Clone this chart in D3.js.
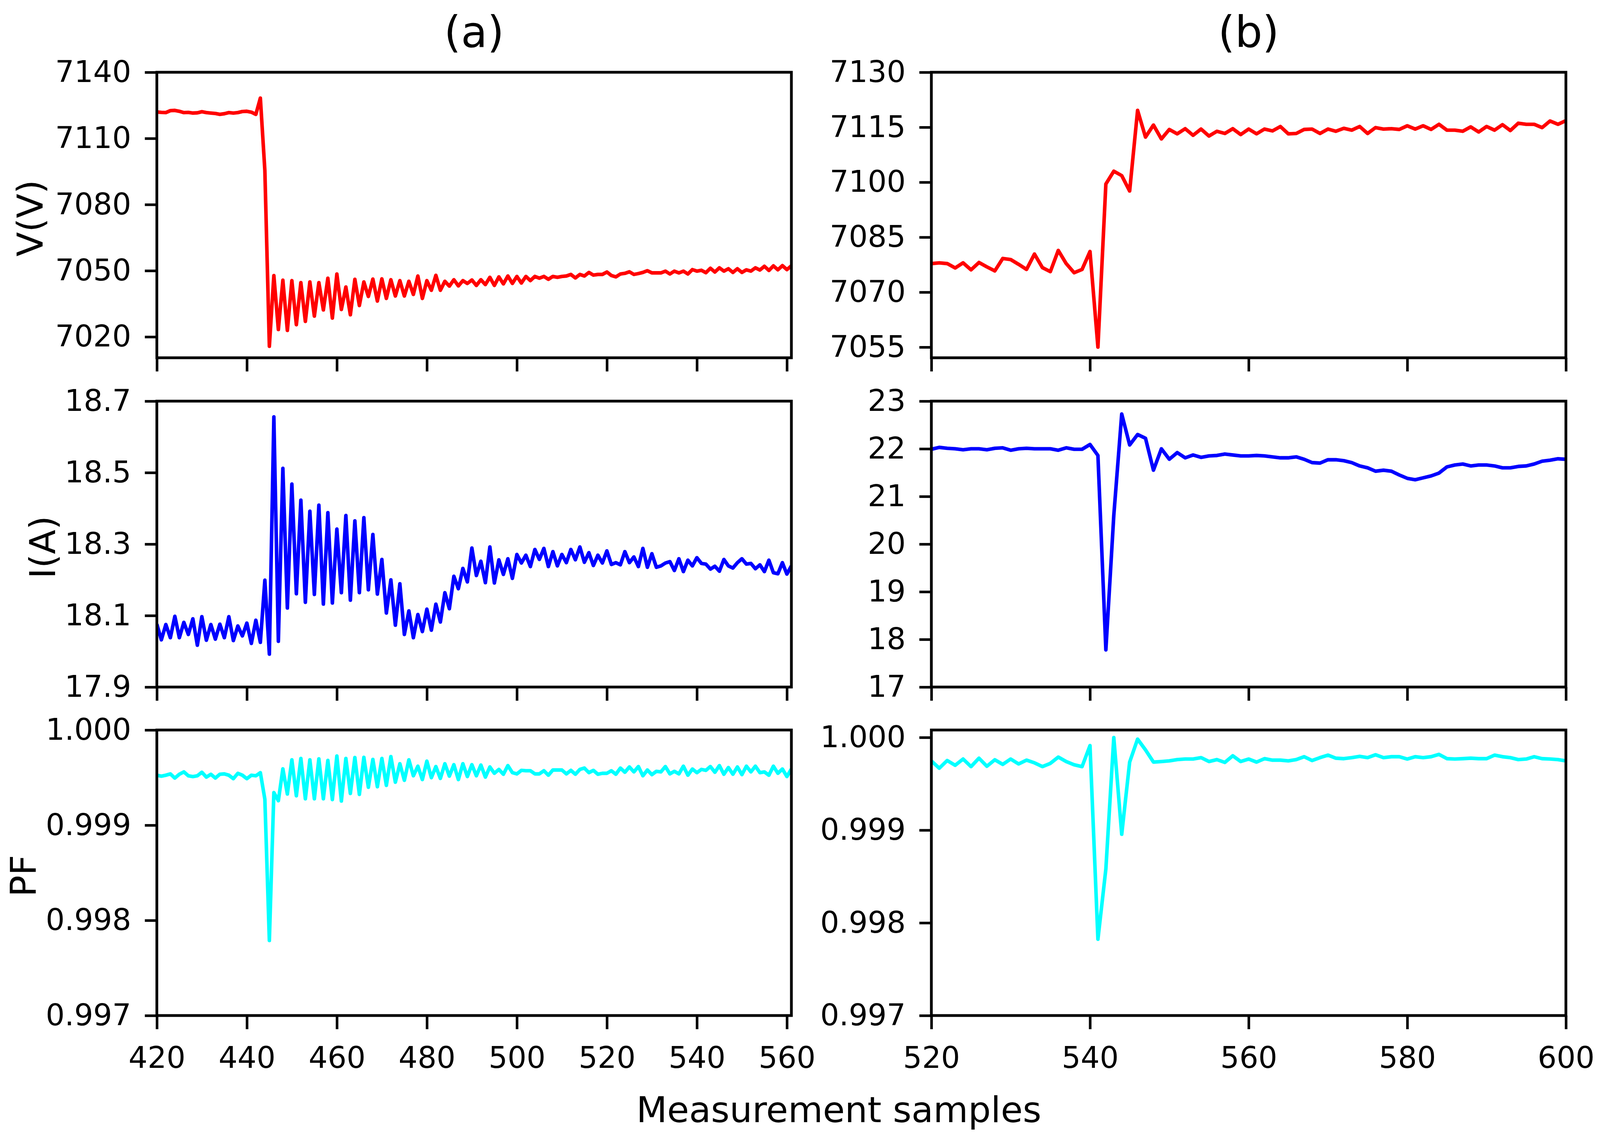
<!DOCTYPE html>
<html>
<head>
<meta charset="utf-8">
<script src="https://cdn.jsdelivr.net/npm/d3@7"></script>
<style>
  html, body { margin: 0; padding: 0; background: #fff; overflow: hidden; }
  svg { display: block; }
  text { font-family: "DejaVu Sans", sans-serif; }
</style>
</head>
<body>
<script>
// Datos
const samplesA = d3.range(420, 562); // muestras 420..561
const samplesB = d3.range(520, 601); // muestras 520..600

const voltageA = [
  7122.0, 7121.8, 7121.7, 7122.6, 7122.7, 7122.3, 7121.7, 7121.8, 7121.5, 7121.6,
  7122.1, 7121.7, 7121.5, 7121.3, 7120.9, 7121.2, 7121.7, 7121.5, 7121.7, 7122.2,
  7122.3, 7121.9, 7120.9, 7128.3, 7095.5, 7015.7, 7047.8, 7023.3, 7045.7, 7022.9,
  7045.5, 7025.5, 7044.6, 7027.0, 7044.9, 7029.4, 7044.6, 7032.2, 7046.6, 7028.5,
  7048.5, 7032.4, 7042.6, 7030.0, 7046.1, 7034.2, 7044.9, 7038.3, 7046.2, 7036.2,
  7046.3, 7037.4, 7045.9, 7038.5, 7045.5, 7038.5, 7045.2, 7039.2, 7047.6, 7037.4,
  7045.5, 7041.1, 7047.9, 7041.1, 7045.2, 7043.0, 7045.9, 7043.1, 7045.5, 7044.2,
  7045.8, 7043.3, 7045.9, 7043.7, 7047.0, 7043.3, 7047.2, 7044.0, 7047.6, 7044.2,
  7047.4, 7044.4, 7047.4, 7045.5, 7047.4, 7046.6, 7047.4, 7046.1, 7047.4, 7047.0,
  7047.4, 7047.6, 7048.3, 7046.7, 7048.3, 7047.6, 7049.2, 7048.0, 7048.3, 7048.3,
  7049.4, 7047.8, 7047.2, 7048.5, 7048.8, 7049.5, 7048.3, 7048.7, 7049.2, 7050.0,
  7049.0, 7049.0, 7049.0, 7049.8, 7048.5, 7049.8, 7049.0, 7049.8, 7048.5, 7050.5,
  7049.8, 7050.2, 7049.1, 7051.1, 7049.4, 7051.3, 7049.8, 7050.9, 7049.2, 7050.9,
  7049.2, 7050.4, 7049.8, 7051.3, 7050.3, 7052.0, 7050.1, 7052.2, 7050.4, 7052.3,
  7050.5, 7052.2,
];

const currentA = [
  18.076, 18.032, 18.075, 18.038, 18.098, 18.038, 18.081, 18.047, 18.091, 18.017,
  18.097, 18.031, 18.075, 18.034, 18.076, 18.038, 18.097, 18.030, 18.071, 18.043,
  18.079, 18.022, 18.087, 18.025, 18.199, 17.992, 18.656, 18.028, 18.512, 18.121,
  18.468, 18.161, 18.423, 18.137, 18.392, 18.159, 18.409, 18.132, 18.388, 18.135,
  18.342, 18.164, 18.380, 18.143, 18.365, 18.164, 18.374, 18.172, 18.327, 18.160,
  18.257, 18.107, 18.200, 18.073, 18.189, 18.047, 18.113, 18.038, 18.103, 18.055,
  18.118, 18.059, 18.132, 18.082, 18.164, 18.119, 18.210, 18.175, 18.232, 18.194,
  18.289, 18.212, 18.252, 18.192, 18.292, 18.191, 18.256, 18.215, 18.259, 18.204,
  18.271, 18.247, 18.269, 18.237, 18.285, 18.257, 18.288, 18.237, 18.279, 18.239,
  18.271, 18.248, 18.285, 18.256, 18.292, 18.249, 18.276, 18.240, 18.269, 18.247,
  18.281, 18.243, 18.248, 18.242, 18.279, 18.248, 18.264, 18.237, 18.288, 18.235,
  18.273, 18.235, 18.239, 18.247, 18.251, 18.226, 18.259, 18.223, 18.255, 18.239,
  18.262, 18.246, 18.244, 18.230, 18.238, 18.224, 18.257, 18.239, 18.233, 18.248,
  18.259, 18.244, 18.246, 18.231, 18.242, 18.223, 18.255, 18.220, 18.217, 18.248,
  18.216, 18.239,
];

const pfA = [
  0.999525, 0.999515, 0.999525, 0.999539, 0.999495, 0.999535, 0.99956, 0.999519, 0.999511, 0.999519,
  0.999556, 0.999505, 0.999535, 0.999495, 0.999535, 0.999539, 0.999525, 0.999489, 0.999545, 0.999525,
  0.999489, 0.999525, 0.999519, 0.999552, 0.999273, 0.997788, 0.999343, 0.999257, 0.999592, 0.999327,
  0.999687, 0.999309, 0.999701, 0.999277, 0.999687, 0.999277, 0.999697, 0.999277, 0.999681, 0.999269,
  0.999727, 0.999253, 0.999701, 0.999333, 0.999711, 0.999323, 0.999713, 0.999398, 0.999691, 0.999404,
  0.999701, 0.999418, 0.999721, 0.999451, 0.999646, 0.999471, 0.999687, 0.999519, 0.99962, 0.999479,
  0.999673, 0.999499, 0.999616, 0.999491, 0.999646, 0.999515, 0.999636, 0.999479, 0.999646, 0.999511,
  0.999636, 0.999519, 0.999632, 0.999505, 0.999612, 0.999545, 0.999586, 0.999535, 0.999626, 0.999552,
  0.999539, 0.999576, 0.999572, 0.999572, 0.999539, 0.999539, 0.999572, 0.999525, 0.99958, 0.99958,
  0.99958, 0.999539, 0.999576, 0.999535, 0.999586, 0.9996, 0.999552, 0.999576, 0.999535, 0.999545,
  0.999545, 0.999572, 0.999535, 0.9996, 0.999556, 0.999612, 0.99956, 0.999616, 0.999519, 0.99958,
  0.999531, 0.999566, 0.99956, 0.999616, 0.999539, 0.999566, 0.999539, 0.99962, 0.999525, 0.99959,
  0.999552, 0.999586, 0.999576, 0.999616, 0.999556, 0.999626, 0.999535, 0.999606, 0.999535, 0.999612,
  0.999531, 0.99962, 0.99956, 0.99962, 0.999552, 0.99956, 0.999525, 0.99962, 0.999545, 0.99959,
  0.999511, 0.99959,
];

const voltageB = [
  7077.8, 7078.0, 7077.8, 7076.6, 7078.0, 7076.1, 7078.1, 7076.9, 7075.8, 7079.2,
  7078.9, 7077.6, 7076.2, 7080.4, 7076.7, 7075.6, 7081.4, 7077.8, 7075.3, 7076.2,
  7081.1, 7055.0, 7099.5, 7103.0, 7101.8, 7097.6, 7119.6, 7112.3, 7115.6, 7111.8,
  7114.4, 7113.2, 7114.6, 7112.8, 7114.5, 7112.6, 7113.9, 7113.3, 7114.6, 7113.0,
  7114.5, 7113.2, 7114.5, 7114.0, 7115.2, 7113.2, 7113.3, 7114.4, 7114.5, 7113.3,
  7114.5, 7113.9, 7114.7, 7114.2, 7115.2, 7113.3, 7114.9, 7114.5, 7114.6, 7114.4,
  7115.4, 7114.5, 7115.4, 7114.4, 7115.8, 7114.2, 7114.2, 7113.9, 7115.1, 7113.7,
  7115.2, 7114.2, 7115.7, 7114.1, 7116.1, 7115.8, 7115.8, 7114.9, 7116.7, 7115.8,
  7116.8,
];

const currentB = [
  21.99, 22.03, 22.01, 22.0, 21.98, 22.0, 22.0, 21.98, 22.01, 22.02,
  21.97, 22.0, 22.01, 22.0, 22.0, 22.0, 21.97, 22.02, 21.99, 21.99,
  22.09, 21.86, 17.78, 20.6, 22.73, 22.08, 22.3, 22.22, 21.55, 22.0,
  21.78, 21.92, 21.81, 21.87, 21.82, 21.85, 21.86, 21.89, 21.87, 21.85,
  21.85, 21.86, 21.85, 21.83, 21.81, 21.81, 21.83, 21.78, 21.71, 21.7,
  21.77, 21.77, 21.75, 21.71, 21.64, 21.6, 21.53, 21.55, 21.53, 21.45,
  21.38, 21.35, 21.39, 21.43, 21.49, 21.62, 21.66, 21.68, 21.64, 21.66,
  21.66, 21.64, 21.6, 21.6, 21.63, 21.64, 21.68, 21.74, 21.76, 21.79,
  21.78,
];

const pfB = [
  0.999747, 0.999668, 0.999751, 0.999699, 0.999767, 0.999685, 0.999776, 0.999689, 0.999759, 0.999709,
  0.999767, 0.999714, 0.999755, 0.999726, 0.999685, 0.99972, 0.999788, 0.99974, 0.999705, 0.999685,
  0.999912, 0.997823, 0.99858, 0.999999, 0.998955, 0.999734, 0.999982, 0.999865, 0.999734, 0.99974,
  0.999747, 0.999761, 0.999767, 0.999767, 0.999782, 0.99974, 0.999761, 0.99973, 0.999802, 0.99974,
  0.999767, 0.999734, 0.999771, 0.999755, 0.999755, 0.999747, 0.999761, 0.999792, 0.999751, 0.999782,
  0.999809, 0.999776, 0.999771, 0.999782, 0.999796, 0.999782, 0.999813, 0.999782, 0.999792, 0.999792,
  0.999767, 0.999792, 0.999782, 0.999792, 0.999817, 0.999771, 0.999767, 0.999771, 0.999776, 0.999771,
  0.999771, 0.999809, 0.999792, 0.999782, 0.999761, 0.999767, 0.999792, 0.999771, 0.999767, 0.999761,
  0.999747,
];

// Marcas de los ejes
const xTicksA = [420, 440, 460, 480, 500, 520, 540, 560];
const xTicksB = [520, 540, 560, 580, 600];
const vTicksA = [7020, 7050, 7080, 7110, 7140];
const iTicksA = [17.9, 18.1, 18.3, 18.5, 18.7];
const vTicksB = [7055, 7070, 7085, 7100, 7115, 7130];
const iTicksB = [17, 18, 19, 20, 21, 22, 23];
const pfTicks = [0.997, 0.998, 0.999, 1.0];

const yLabels = ["V(V)", "I(A)", "PF"];
const titles = ["(a)", "(b)"];
const xLabel = "Measurement samples";

// Tamaño de diseño (el de la figura original) y tamaño real de la ventana
const baseW = 4927;
const baseH = 2911;
const vw = window.innerWidth || baseW;
const vh = window.innerHeight || baseH;
const sx = vw / baseW;
const sy = vh / baseH;
const s = Math.min(sx, sy);

const cols = [
  { x0: 483 * sx, x1: 2437 * sx, xDomain: [420, 561], xTicks: xTicksA },
  { x0: 2868 * sx, x1: 4822 * sx, xDomain: [520, 600], xTicks: xTicksB },
];
const rows = [
  { y0: 185 * sy, y1: 916 * sy },
  { y0: 1027 * sy, y1: 1759 * sy },
  { y0: 1869 * sy, y1: 2600 * sy },
];

const panels = [
  { col: 0, row: 0, xs: samplesA, ys: voltageA, domain: [7010.5, 7140], ticks: vTicksA, fmt: d3.format("d"), color: "#ff0000" },
  { col: 0, row: 1, xs: samplesA, ys: currentA, domain: [17.9, 18.7], ticks: iTicksA, fmt: d3.format(".1f"), color: "#0000ff" },
  { col: 0, row: 2, xs: samplesA, ys: pfA, domain: [0.997, 1.0], ticks: pfTicks, fmt: d3.format(".3f"), color: "#00ffff" },
  { col: 1, row: 0, xs: samplesB, ys: voltageB, domain: [7052.1, 7130], ticks: vTicksB, fmt: d3.format("d"), color: "#ff0000" },
  { col: 1, row: 1, xs: samplesB, ys: currentB, domain: [17, 23], ticks: iTicksB, fmt: d3.format("d"), color: "#0000ff" },
  { col: 1, row: 2, xs: samplesB, ys: pfB, domain: [0.997, 1.00008], ticks: pfTicks, fmt: d3.format(".3f"), color: "#00ffff" },
];

const tickFont = 92 * s;
const labelFont = 110 * s;
const titleFont = 133 * s;

const svg = d3.select("body").append("svg").attr("width", vw).attr("height", vh);

svg.append("rect").attr("width", vw).attr("height", vh).attr("fill", "#fff");

panels.forEach((p, k) => {
  const c = cols[p.col];
  const r = rows[p.row];
  const w = c.x1 - c.x0;
  const h = r.y1 - r.y0;

  const x = d3.scaleLinear().domain(c.xDomain).range([0, w]);
  const y = d3.scaleLinear().domain(p.domain).range([h, 0]);

  const g = svg.append("g").attr("transform", `translate(${c.x0},${r.y0})`);

  g.append("clipPath")
    .attr("id", "clip" + k)
    .append("rect")
    .attr("width", w)
    .attr("height", h);

  const line = d3
    .line()
    .x((d) => x(d[0]))
    .y((d) => y(d[1]));

  g.append("path")
    .datum(p.xs.map((v, i) => [v, p.ys[i]]))
    .attr("clip-path", `url(#clip${k})`)
    .attr("fill", "none")
    .attr("stroke", p.color)
    .attr("stroke-width", 11 * s)
    .attr("stroke-linejoin", "round")
    .attr("d", line);

  // Eje Y
  const yAxis = g
    .append("g")
    .call(
      d3
        .axisLeft(y)
        .tickValues(p.ticks)
        .tickFormat(p.fmt)
        .tickSize(37 * sx)
        .tickPadding(42 * sx)
    );

  // Eje X (etiquetas solo en la última fila)
  const xAxis = g
    .append("g")
    .attr("transform", `translate(0,${h})`)
    .call(
      d3
        .axisBottom(x)
        .tickValues(c.xTicks)
        .tickSize(35 * sy)
        .tickPadding(45 * sy)
        .tickFormat(p.row === 2 ? d3.format("d") : () => "")
    );

  [yAxis, xAxis].forEach((a) => {
    a.select(".domain").remove();
    a.selectAll(".tick line").attr("stroke", "#000").attr("stroke-width", 8 * s);
    a.selectAll(".tick text")
      .attr("fill", "#000")
      .style("font-size", tickFont + "px")
      .style("font-family", '"DejaVu Sans", sans-serif');
  });

  // Marco
  g.append("rect")
    .attr("width", w)
    .attr("height", h)
    .attr("fill", "none")
    .attr("stroke", "#000")
    .attr("stroke-width", 8.5 * s);
});

// Etiquetas del eje Y
const yLabelX = [131, 170, 111];
yLabels.forEach((t, i) => {
  const cy = (rows[i].y0 + rows[i].y1) / 2 + 8 * sy;
  svg
    .append("text")
    .attr("transform", `translate(${yLabelX[i] * sx},${cy}) rotate(-90)`)
    .attr("text-anchor", "middle")
    .style("font-size", labelFont + "px")
    .text(t);
});

// Títulos
titles.forEach((t, i) => {
  svg
    .append("text")
    .attr("x", (cols[i].x0 + cols[i].x1) / 2)
    .attr("y", 120 * sy)
    .attr("text-anchor", "middle")
    .style("font-size", titleFont + "px")
    .text(t);
});

svg
  .append("text")
  .attr("x", 2583 * sx)
  .attr("y", 2873 * sy)
  .attr("text-anchor", "middle")
  .style("font-size", labelFont + "px")
  .text(xLabel);
</script>
</body>
</html>
